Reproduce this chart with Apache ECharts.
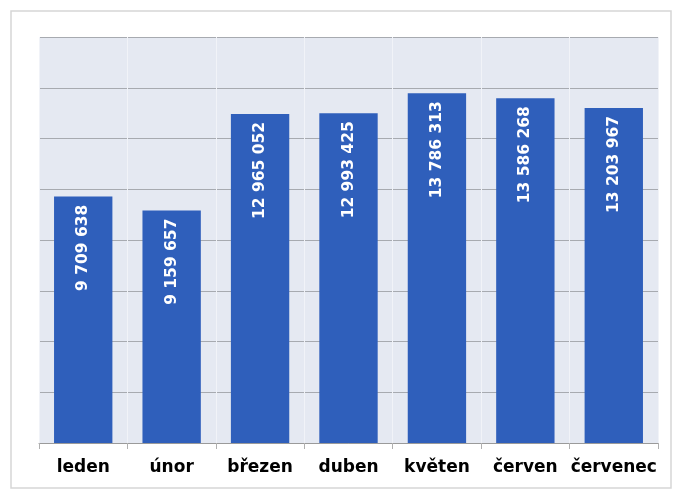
<!DOCTYPE html>
<html><head><meta charset="utf-8">
<script src="https://cdn.jsdelivr.net/npm/echarts@6/dist/echarts.min.js"></script>
<style>html,body{margin:0;padding:0;background:#fff}#c{width:677px;height:492px}</style>
</head><body><div id="c"></div>
<script>
const categories = ['leden','únor','březen','duben','květen','červen','červenec'];
const values = [9709638, 9159657, 12965052, 12993425, 13786313, 13586268, 13203967];
const yMax = 16000000;
const yInterval = 2000000;

function fmt(v){ return String(v).replace(/\B(?=(\d{3})+(?!\d))/g,' '); }

const chart = echarts.init(document.getElementById('c'));
chart.setOption({
  backgroundColor:'#ffffff',
  animation:false,
  graphic:[{type:'rect',shape:{x:11,y:11,width:660,height:477},style:{fill:'none',stroke:'#d6d6d6',lineWidth:1.5},z:-1}],
  grid:{left:39,right:19,top:37,bottom:49,show:true,backgroundColor:'#e5e9f2',borderWidth:0},
  xAxis:{type:'category',data:categories,
    axisLine:{show:true,lineStyle:{color:'#9a9a9a',width:1}},
    axisTick:{show:true,interval:0,length:6,lineStyle:{color:'#b0b0b0'}},
    splitLine:{show:true,interval:0,lineStyle:{color:'#f1f3f8',width:1}},
    axisLabel:{interval:0,hideOverlap:false,color:'#000',fontFamily:'DejaVu Sans',fontWeight:'bold',fontSize:17,margin:16}},
  yAxis:{type:'value',min:0,max:yMax,interval:yInterval,
    axisLabel:{show:false},axisLine:{show:false},axisTick:{show:false},
    splitLine:{show:true,lineStyle:{color:'#a7aab0',width:1.2}}},
  series:[{type:'bar',data:values,barWidth:'66%',
    itemStyle:{color:'#2f5fbb'},
    label:{show:true,position:'insideTop',rotate:90,align:'right',verticalAlign:'middle',distance:8,
      color:'#fff',fontFamily:'DejaVu Sans',fontWeight:'bold',fontSize:15.5,
      formatter:p=>fmt(p.value)}}]
});
</script></body></html>
